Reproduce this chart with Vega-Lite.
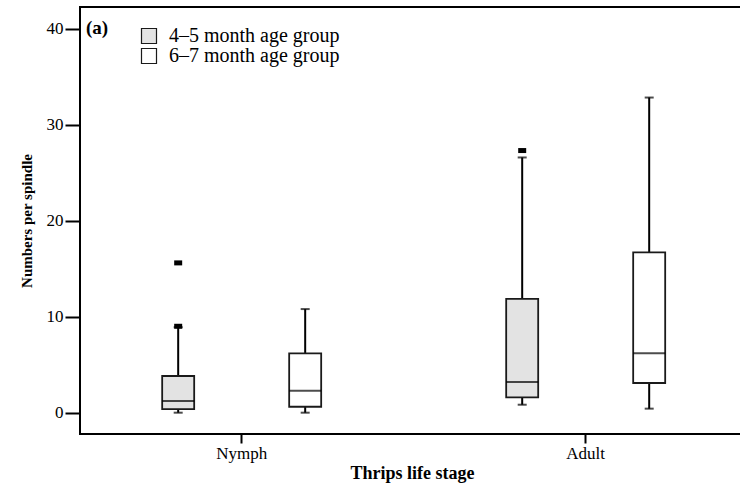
{
  "$schema": "https://vega.github.io/schema/vega-lite/v6.json",
  "width": 664,
  "height": 427,
  "autosize": {"type": "none"},
  "padding": {"left": 80, "top": 7, "right": 0, "bottom": 53},
  "background": "white",
  "title": {
    "text": "(a)",
    "anchor": "start",
    "frame": "group",
    "orient": "top",
    "offset": -46,
    "baseline": "alphabetic",
    "dx": 6,
    "font": "Liberation Serif",
    "fontSize": 19,
    "fontWeight": "bold",
    "color": "black"
  },
  "datasets": {
    "boxes": [
      {"stage": "Nymph", "group": "4–5 month age group", "lo": 0, "q1": 0.38, "median": 1.22, "q3": 3.82, "hi": 8.9},
      {"stage": "Nymph", "group": "6–7 month age group", "lo": 0, "q1": 0.62, "median": 2.29, "q3": 6.18, "hi": 10.79},
      {"stage": "Adult", "group": "4–5 month age group", "lo": 0.83, "q1": 1.6, "median": 3.19, "q3": 11.86, "hi": 26.58},
      {"stage": "Adult", "group": "6–7 month age group", "lo": 0.42, "q1": 3.09, "median": 6.18, "q3": 16.69, "hi": 32.82},
      {"stage": "Nymph", "group": "4–5 month age group", "outlier": 15.6},
      {"stage": "Nymph", "group": "4–5 month age group", "outlier": 9.0},
      {"stage": "Adult", "group": "4–5 month age group", "outlier": 27.3}
    ]
  },
  "data": {"name": "boxes"},
  "encoding": {
    "x": {
      "field": "stage",
      "type": "nominal",
      "sort": ["Nymph", "Adult"],
      "scale": {"domain": ["Nymph", "Adult"], "paddingInner": 0.1698, "paddingOuter": 0.05, "align": 0.549},
      "axis": {
        "orient": "bottom",
        "title": "Thrips life stage",
        "labelAngle": 0,
        "domain": false,
        "tickSize": 9,
        "tickWidth": 2,
        "tickColor": "black",
        "labelPadding": 2,
        "labelFont": "Liberation Serif",
        "labelFontSize": 17,
        "labelColor": "black",
        "titleFont": "Liberation Serif",
        "titleFontSize": 18,
        "titleFontWeight": "bold",
        "titleColor": "black",
        "titlePadding": 3
      }
    },
    "xOffset": {
      "field": "group",
      "type": "nominal",
      "scale": {"domain": ["4–5 month age group", "6–7 month age group"], "paddingInner": 0.748, "paddingOuter": 0.4984}
    }
  },
  "layer": [
    {
      "mark": {"type": "rule", "color": "black", "strokeWidth": 2},
      "encoding": {
        "y": {
          "field": "lo",
          "type": "quantitative",
          "scale": {"domain": [-2.22, 42.25], "nice": false, "zero": false},
          "axis": {
            "title": "Numbers per spindle",
            "values": [0, 10, 20, 30, 40],
            "grid": false,
            "domain": false,
            "tickSize": 15,
            "tickWidth": 2,
            "tickColor": "black",
            "labelPadding": 2,
            "labelFont": "Liberation Serif",
            "labelFontSize": 17,
            "labelColor": "black",
            "titleFont": "Liberation Serif",
            "titleFontSize": 15,
            "titleFontWeight": "bold",
            "titleColor": "black",
            "titlePadding": 12
          }
        },
        "y2": {"field": "hi"}
      }
    },
    {
      "mark": {"type": "bar", "stroke": "#1a1a1a", "strokeWidth": 1.8},
      "encoding": {
        "y": {"field": "q1", "type": "quantitative"},
        "y2": {"field": "q3"},
        "fill": {
          "field": "group",
          "type": "nominal",
          "scale": {"domain": ["4–5 month age group", "6–7 month age group"], "range": ["#e3e3e3", "#ffffff"]},
          "legend": {
            "title": null,
            "orient": "none",
            "legendX": 59,
            "legendY": 19,
            "symbolType": "square",
            "symbolSize": 225,
            "symbolStrokeColor": "#1a1a1a",
            "symbolStrokeWidth": 1.2,
            "labelFont": "Liberation Serif",
            "labelFontSize": 20,
            "labelColor": "black",
            "labelLimit": 0,
            "labelOffset": 10,
            "rowPadding": -5,
            "padding": 0
          }
        }
      }
    },
    {
      "mark": {"type": "tick", "color": "black", "thickness": 2, "size": 32},
      "encoding": {"y": {"field": "median", "type": "quantitative"}}
    },
    {
      "mark": {"type": "tick", "color": "black", "thickness": 2, "size": 9},
      "encoding": {"y": {"field": "lo", "type": "quantitative"}}
    },
    {
      "mark": {"type": "tick", "color": "black", "thickness": 2, "size": 9},
      "encoding": {"y": {"field": "hi", "type": "quantitative"}}
    },
    {
      "mark": {"type": "tick", "color": "black", "thickness": 5, "size": 8, "opacity": 1},
      "encoding": {"y": {"field": "outlier", "type": "quantitative"}}
    }
  ],
  "config": {
    "view": {"stroke": "black", "strokeWidth": 2}
  }
}
